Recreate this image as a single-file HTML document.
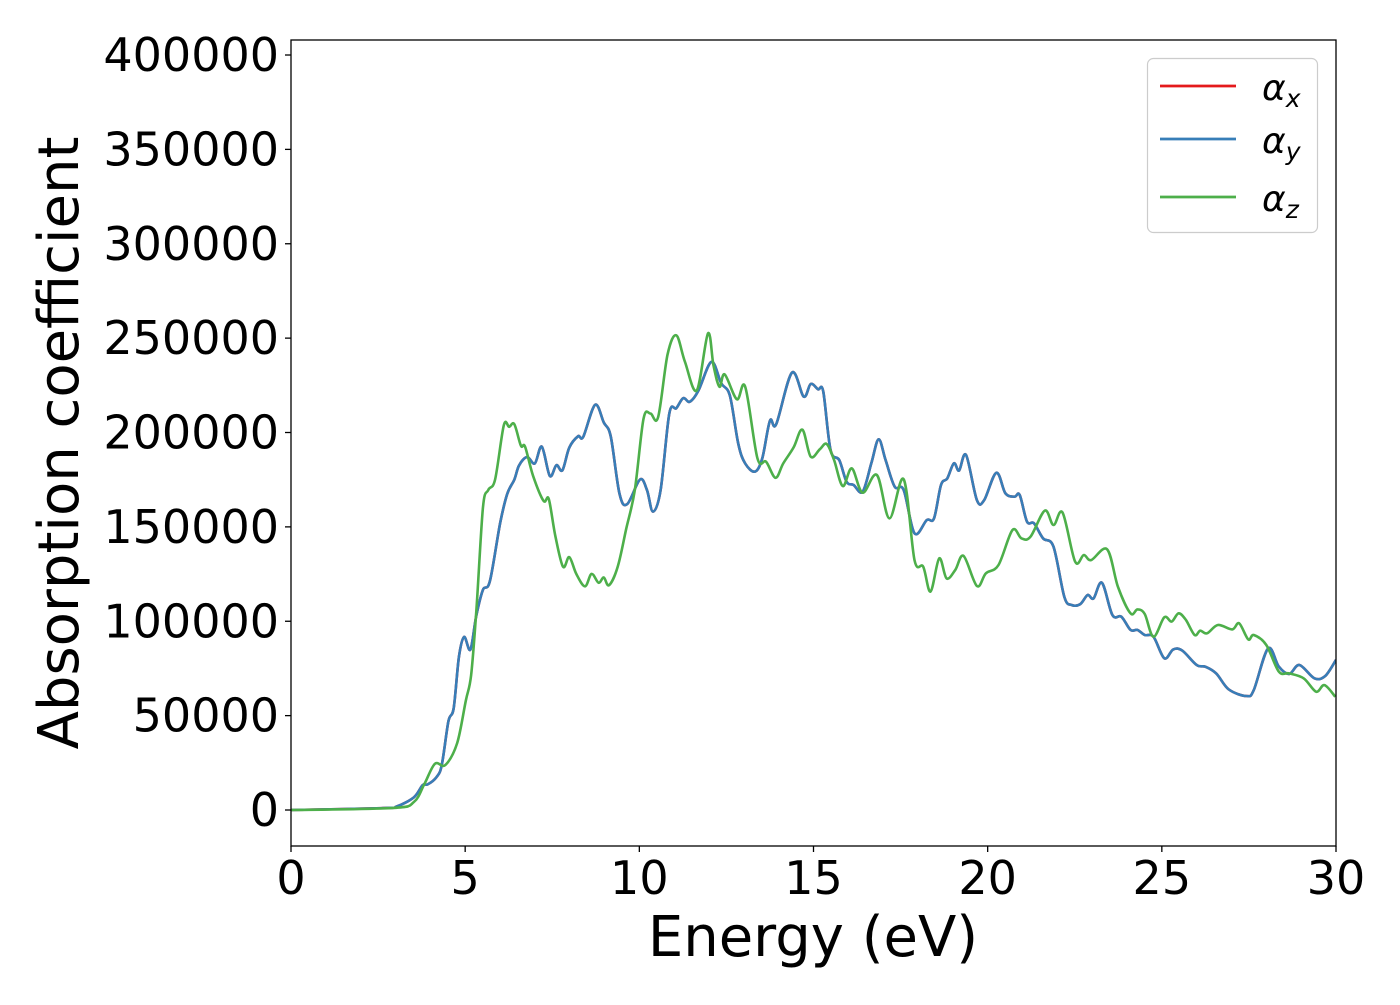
<!DOCTYPE html>
<html><head><meta charset="utf-8"><style>
html,body{margin:0;padding:0;background:#fff;}
svg text{font-family:"DejaVu Sans","Liberation Sans",sans-serif;fill:#000;}
</style></head><body>
<svg id="chart" width="1400" height="1000" viewBox="0 0 1400 1000" xmlns="http://www.w3.org/2000/svg">
<rect width="1400" height="1000" fill="#fff"/>
<g id="plot"></g>
<g id="axes"></g>
<text x="813" y="956" font-size="56" text-anchor="middle">Energy (eV)</text>
<text transform="translate(78,443) rotate(-90)" font-size="56" text-anchor="middle">Absorption coefficient</text>
<g>
<rect x="1147.5" y="58.5" width="170" height="174" rx="6" fill="#fff" stroke="#ccc" stroke-width="1.2"/>
<g>
<line x1="1160" y1="86" x2="1236" y2="86" stroke="#e41a1c" stroke-width="2.8"/>
<text x="1262" y="100" font-size="36" font-style="italic">α<tspan font-size="25" dy="7">x</tspan></text></g>
<g>
<line x1="1160" y1="139" x2="1236" y2="139" stroke="#377eb8" stroke-width="2.8"/>
<text x="1262" y="153" font-size="36" font-style="italic">α<tspan font-size="25" dy="7">y</tspan></text></g>
<g>
<line x1="1160" y1="197" x2="1236" y2="197" stroke="#4daf4a" stroke-width="2.8"/>
<text x="1262" y="211" font-size="36" font-style="italic">α<tspan font-size="25" dy="7">z</tspan></text></g>
</g>
</svg>
<script>
const xTicks=[0,5,10,15,20,25,30];
const yTicks=[0,50000,100000,150000,200000,250000,300000,350000,400000];
const energyXY=[0,2.64,3.04,3.53,3.78,3.93,4.18,4.33,4.52,4.67,4.82,4.97,5.15,5.32,5.51,5.71,6.01,6.21,6.41,6.55,6.78,7.0,7.2,7.43,7.62,7.79,7.99,8.24,8.39,8.73,8.98,9.18,9.43,9.65,10.02,10.22,10.39,10.61,10.86,11.06,11.26,11.45,11.7,12.07,12.35,12.6,12.84,13.04,13.32,13.53,13.75,13.93,14.38,14.72,14.92,15.13,15.28,15.49,15.74,15.95,16.15,16.41,16.66,16.87,17.07,17.33,17.59,17.9,18.25,18.46,18.66,18.84,19.03,19.18,19.38,19.69,19.9,20.25,20.51,20.77,20.92,21.13,21.33,21.59,21.89,22.2,22.41,22.66,22.87,23.04,23.28,23.58,23.84,24.1,24.3,24.51,24.76,25.07,25.33,25.59,26.0,26.25,26.56,26.92,27.43,27.64,28.05,28.36,28.66,28.95,29.38,29.69,30.0];
const alphaX=[0,1000,1900,6800,13200,13600,17500,24000,47000,54000,81000,91700,85000,103000,116600,121300,152500,167600,175000,182700,187000,183600,192500,177000,182700,180000,192000,198000,197800,214700,205300,197800,167600,162000,175100,169500,158100,169500,210000,212900,218200,216300,222300,237400,226100,219500,194000,183600,179300,186400,206300,204400,231700,219000,225700,222900,221600,190700,185400,173900,172200,168600,183700,196400,185400,171300,169500,146600,153600,154500,172200,175700,183700,179800,188100,164200,164200,178700,167800,166000,166900,152800,151900,143900,139500,113000,108600,109100,113900,112100,120400,103300,102400,95400,95400,92700,91800,80400,85100,84400,76800,75900,72400,63900,60400,63600,85600,75900,72100,76800,69800,71000,79500];
const alphaY=[0,1000,1900,6800,13200,13600,17500,24000,47000,54000,81000,91700,85000,103000,116600,121300,152500,167600,175000,182700,187000,183600,192500,177000,182700,180000,192000,198000,197800,214700,205300,197800,167600,162000,175100,169500,158100,169500,210000,212900,218200,216300,222300,237400,226100,219500,194000,183600,179300,186400,206300,204400,231700,219000,225700,222900,221600,190700,185400,173900,172200,168600,183700,196400,185400,171300,169500,146600,153600,154500,172200,175700,183700,179800,188100,164200,164200,178700,167800,166000,166900,152800,151900,143900,139500,113000,108600,109100,113900,112100,120400,103300,102400,95400,95400,92700,91800,80400,85100,84400,76800,75900,72400,63900,60400,63600,85600,75900,72100,76800,69800,71000,79500];
const energyZ=[0,2.94,3.53,3.83,4.13,4.43,4.77,5.02,5.17,5.32,5.51,5.66,5.86,6.11,6.26,6.41,6.6,6.72,6.95,7.25,7.4,7.59,7.81,7.99,8.19,8.44,8.63,8.83,8.98,9.13,9.38,9.62,9.87,10.12,10.32,10.54,10.81,11.06,11.31,11.65,11.97,12.13,12.3,12.45,12.8,13.04,13.39,13.64,13.91,14.13,14.43,14.68,14.92,15.18,15.38,15.59,15.84,16.1,16.41,16.82,17.18,17.59,17.9,18.15,18.36,18.61,18.82,19.07,19.31,19.69,19.95,20.31,20.71,20.97,21.23,21.64,21.89,22.15,22.51,22.76,22.97,23.43,23.74,24.1,24.3,24.51,24.76,25.07,25.28,25.48,25.69,25.94,26.1,26.3,26.61,27.02,27.22,27.48,27.64,28.0,28.36,28.66,29.07,29.43,29.67,29.98];
const alphaZ=[0,1100,4300,13800,24500,23800,35500,58100,71300,105300,160000,169500,175100,203800,203000,204400,193000,192500,177000,163800,164700,145000,128900,134000,125100,118500,125100,120400,123200,119100,128900,148700,169500,207200,210000,208100,241200,251500,237400,222300,252500,235500,224200,230800,217600,224200,186400,184500,176000,183600,192100,201500,187200,191100,193900,185400,171600,181000,168100,177500,154500,175200,132400,128900,115700,133300,122700,127200,134600,118700,125400,129800,148300,143900,144800,158600,151000,157500,131600,135100,132400,138100,118300,104200,106300,103800,91800,102100,99800,104200,100700,92700,95000,93600,98000,95700,98900,90400,92700,87400,73300,72400,69800,62700,66200,60000];

const X0=291,X1=1336,Y0=846,Y1=40;
const xMin=0,xMax=30,yMin=-19070,yMax=407950;
function sx(v){return X0+(v-xMin)/(xMax-xMin)*(X1-X0);}
function sy(v){return Y0-(v-yMin)/(yMax-yMin)*(Y0-Y1);}
const NS="http://www.w3.org/2000/svg";
function mk(tag,attrs,parent){const e=document.createElementNS(NS,tag);for(const k in attrs)e.setAttribute(k,attrs[k]);parent.appendChild(e);return e;}
function pathFrom(xs,ys){
  const p=xs.map((x,i)=>[sx(x),sy(ys[i])]);
  let d="M"+p[0][0].toFixed(1)+","+p[0][1].toFixed(1);
  for(let i=0;i<p.length-1;i++){
    const a=p[Math.max(i-1,0)],b=p[i],c=p[i+1],e=p[Math.min(i+2,p.length-1)];
    const c1x=b[0]+(c[0]-a[0])/6,c1y=b[1]+(c[1]-a[1])/6;
    const c2x=c[0]-(e[0]-b[0])/6,c2y=c[1]-(e[1]-b[1])/6;
    d+=" C"+c1x.toFixed(1)+","+c1y.toFixed(1)+" "+c2x.toFixed(1)+","+c2y.toFixed(1)+" "+c[0].toFixed(1)+","+c[1].toFixed(1);
  }
  return d;
}
const plot=document.getElementById('plot');
mk('clipPath',{id:'clip'},plot).appendChild(Object.assign(document.createElementNS(NS,'rect'),{}));
const cr=plot.querySelector('#clip').firstChild;
cr.setAttribute('x',X0);cr.setAttribute('y',Y1);cr.setAttribute('width',X1-X0);cr.setAttribute('height',Y0-Y1);
const series=[[energyXY,alphaX,'#e41a1c','series-alpha-x'],[energyXY,alphaY,'#377eb8','series-alpha-y'],[energyZ,alphaZ,'#4daf4a','series-alpha-z']];
series.forEach(s=>{
  const el=mk('path',{d:pathFrom(s[0],s[1]),fill:'none',stroke:s[2],'stroke-width':2.6,'stroke-linejoin':'round','clip-path':'url(#clip)'},plot);
  
  
});
const axes=document.getElementById('axes');
const frame=mk('rect',{x:X0,y:Y1,width:X1-X0,height:Y0-Y1,fill:'none',stroke:'#000','stroke-width':1.3},axes);


xTicks.forEach(t=>{
  const x=sx(t);
  const tk=mk('line',{x1:x,y1:Y0,x2:x,y2:Y0+6,stroke:'#000','stroke-width':1.3},axes);
  
  
  const lb=mk('text',{x:x,y:894,'font-size':46,'text-anchor':'middle'},axes);
  lb.textContent=t;
  
  
});
yTicks.forEach(t=>{
  const y=sy(t);
  const tk=mk('line',{x1:X0-6,y1:y,x2:X0,y2:y,stroke:'#000','stroke-width':1.3},axes);
  
  
  const lb=mk('text',{x:279,y:y+16,'font-size':46,'text-anchor':'end'},axes);
  lb.textContent=t;
  
  
});
</script>
</body></html>
